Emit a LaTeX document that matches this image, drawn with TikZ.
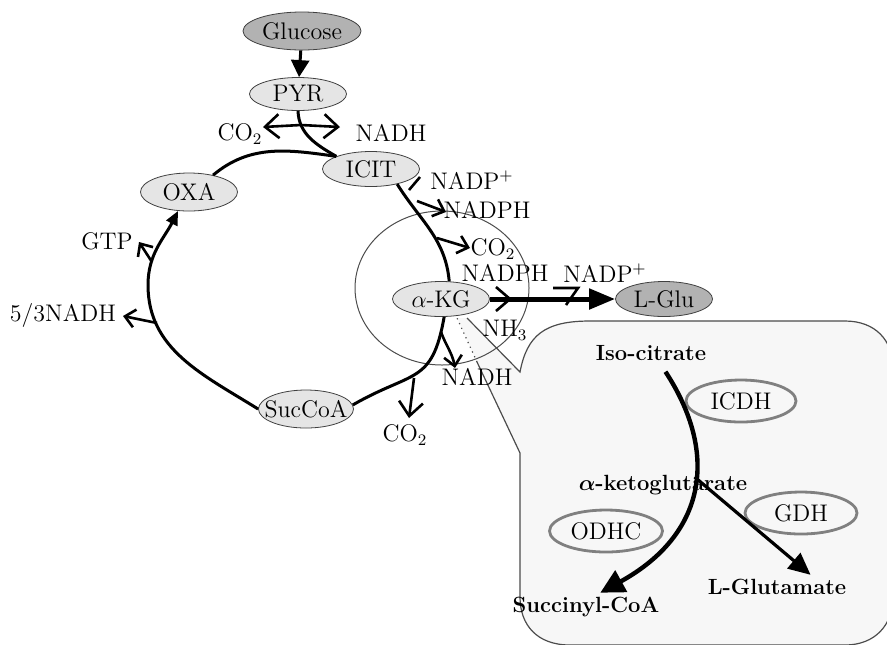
\documentclass[tikz,border=0pt]{standalone}
\usepackage{amsmath}
\usepackage{tikz}
\usetikzlibrary{arrows.meta,shapes.geometric}

\begin{document}
\begin{tikzpicture}[x=0.5pt, y=-0.5pt, >=Stealth,
  font=\fontsize{12}{14}\selectfont,
  mol/.style={draw=black!75, ellipse, fill=black!10, inner sep=0pt,
    minimum width=48.5pt, minimum height=17.5pt},
  molx/.style={mol, fill=black!30},
  enz/.style={draw=black!50, line width=1.4pt, ellipse, inner sep=0pt,
    minimum width=55pt, minimum height=21pt},
  cyc/.style={line width=1.5pt},
  sidearr/.style={line width=1.3pt, -{Straight Barb[length=5pt,width=9pt]}},
  tk/.style={line width=1.3pt},
  lbl/.style={inner sep=1pt},
  cmpd/.style={font=\fontsize{11}{13}\selectfont\bfseries, inner sep=2pt},
  wall/.style={draw=black!70, line width=0.6pt}]
\useasboundingbox (0,0) rectangle (887,644);

% close-up box
\fill[black!3] (467,318) -- (520,372) .. controls (527,335) and (545,321) .. (590,321)
  -- (845,321) .. controls (875,321) and (893,340) .. (893,368) -- (893,597)
  .. controls (893,625) and (875,645) .. (845,645) -- (570,645)
  .. controls (537,645) and (520,625) .. (520,597) -- (520,453) -- (477,362)
  -- (457,318) -- cycle;
\draw[wall] (467,318) -- (520,372) .. controls (527,335) and (545,321) .. (590,321)
  -- (845,321) .. controls (875,321) and (893,340) .. (893,368) -- (893,597)
  .. controls (893,625) and (875,645) .. (845,645) -- (570,645)
  .. controls (537,645) and (520,625) .. (520,597) -- (520,453) -- (477,362);
\draw[wall, dotted] (477,362) -- (457,318);
\draw[black!70, line width=0.5pt] (442,288) ellipse [x radius=43.5pt, y radius=38.5pt];

% metabolites
\node[molx, minimum width=59pt, minimum height=19pt] (glc) at (302,31) {Glucose};
\node[mol, minimum height=16.5pt] (pyr) at (298,94) {PYR};
\node[mol] (icit) at (371,169) {ICIT};
\node[mol, minimum height=19pt] (oxa) at (189,192) {OXA};
\node[mol] (akg) at (441,299) {$\alpha$-KG};
\node[mol, minimum width=47.5pt, minimum height=19pt, inner xsep=-6pt] (succoa) at (306,409) {SucCoA};
\node[molx] (lglu) at (664,299) {L-Glu};

\node[lbl] (co2a) at (240,134) {CO$_2$};
\node[lbl] (nadha) at (391,133) {NADH};
\node[lbl] (nadpa) at (472,180) {NADP$^+$};
\node[lbl] (nadpha) at (487,210) {NADPH};
\node[lbl] (co2b) at (493,249) {CO$_2$};
\node[lbl] (nadphb) at (505,273) {NADPH};
\node[lbl] (nadpb) at (605,273) {NADP$^+$};
\node[lbl] (nh3) at (505,330) {NH$_3$};
\node[lbl] (nadhb) at (477,377) {NADH};
\node[lbl] (co2c) at (405,435) {CO$_2$};
\node[lbl] (gtp) at (107,241) {GTP};
\node[lbl] (nadhc) at (63,315) {5/3NADH};

% side reactions
\coordinate (pyB) at (301,125);
\coordinate (pyL) at (263,127);
\coordinate (pyR) at (340,127);
\coordinate (icA1) at (420,177);
\coordinate (icA2) at (409,190);
\coordinate (icB1) at (417,201);
\coordinate (icB2) at (446,212);
\coordinate (icC1) at (437,238);
\coordinate (icC2) at (470,248);
\coordinate (gl1) at (496,287);
\coordinate (gl2) at (510,299);
\coordinate (gl3) at (496,311);
\coordinate (gl4) at (553,288);
\coordinate (gl5) at (578,288);
\coordinate (gl6) at (566,305);
\coordinate (kgA1) at (441,332);
\coordinate (kgA2) at (455,368);
\coordinate (kgB1) at (414,378);
\coordinate (kgB2) at (409,418);
\coordinate (oxA1) at (152,262);
\coordinate (oxA2) at (139,242);
\coordinate (oxB1) at (157,323);
\coordinate (oxB2) at (123,316);
\coordinate (lft) at (148,285);

% cycle
\draw[cyc, -{Triangle[length=8.5pt,width=9pt]}] (glc) -- (pyr);
\draw[cyc] (pyr.south) to[out=-88,in=150] (icit.160);
\draw[cyc] (oxa.35) to[out=40,in=172] (icit.160);
\draw[cyc] (icit.-30) to[out=-58,in=95] (akg.65);
\draw[cyc] (akg.-80) to[out=-100,in=30,looseness=1.4] (succoa.5);
\draw[cyc, -{Triangle[length=7pt,width=6pt]}] (succoa.west) to[out=148,in=-90] (lft)
  to[out=90,in=-117] (oxa.-120);
\draw[line width=2.5pt, -{Triangle[length=13pt,width=10pt]}] (akg.east) -- (lglu.west);

\draw[sidearr, -{Straight Barb[length=7pt,width=12pt]}] (pyB) -- (pyL);
\draw[sidearr, -{Straight Barb[length=7pt,width=12pt]}] (pyB) -- (pyR);
\draw[tk] (icA1) -- (icA2);
\draw[sidearr] (icB1) -- (icB2);
\draw[sidearr] (icC1) -- (icC2);
\draw[tk] (gl1) -- (gl2) -- (gl3);
\draw[tk] (gl4) -- (gl5) -- (gl6);
\draw[sidearr] (kgA1) to[out=-70,in=100] (kgA2);
\draw[sidearr, -{Straight Barb[length=7pt,width=12pt]}] (kgB1) -- (kgB2);
\draw[sidearr] (oxA1) -- (oxA2);
\draw[sidearr] (oxB1) -- (oxB2);

% close-up
\node[cmpd] (isoc) at (651,353) {Iso-citrate};
\node[cmpd] (akgl) at (663,485) {$\boldsymbol{\alpha}$-ketoglutarate};
\node[cmpd] (succ) at (586,607) {Succinyl-CoA};
\node[cmpd] (lglut) at (777,587) {L-Glutamate};
\node[enz] (icdh) at (741,401) {ICDH};
\node[enz, minimum width=56pt] (gdh) at (801,513) {GDH};
\node[enz, minimum width=56.5pt] (odhc) at (606,531) {ODHC};

\draw[line width=2.2pt, -{Triangle[length=12pt,width=12pt]}, shorten <=4pt]
  (isoc.-50) .. controls (720,455) and (705,535) .. coordinate[pos=0.44] (br) (succ.45);
\draw[line width=1.6pt, -{Triangle[length=11pt,width=10pt]}] (br) -- (lglut.20);
\end{tikzpicture}
\end{document}
